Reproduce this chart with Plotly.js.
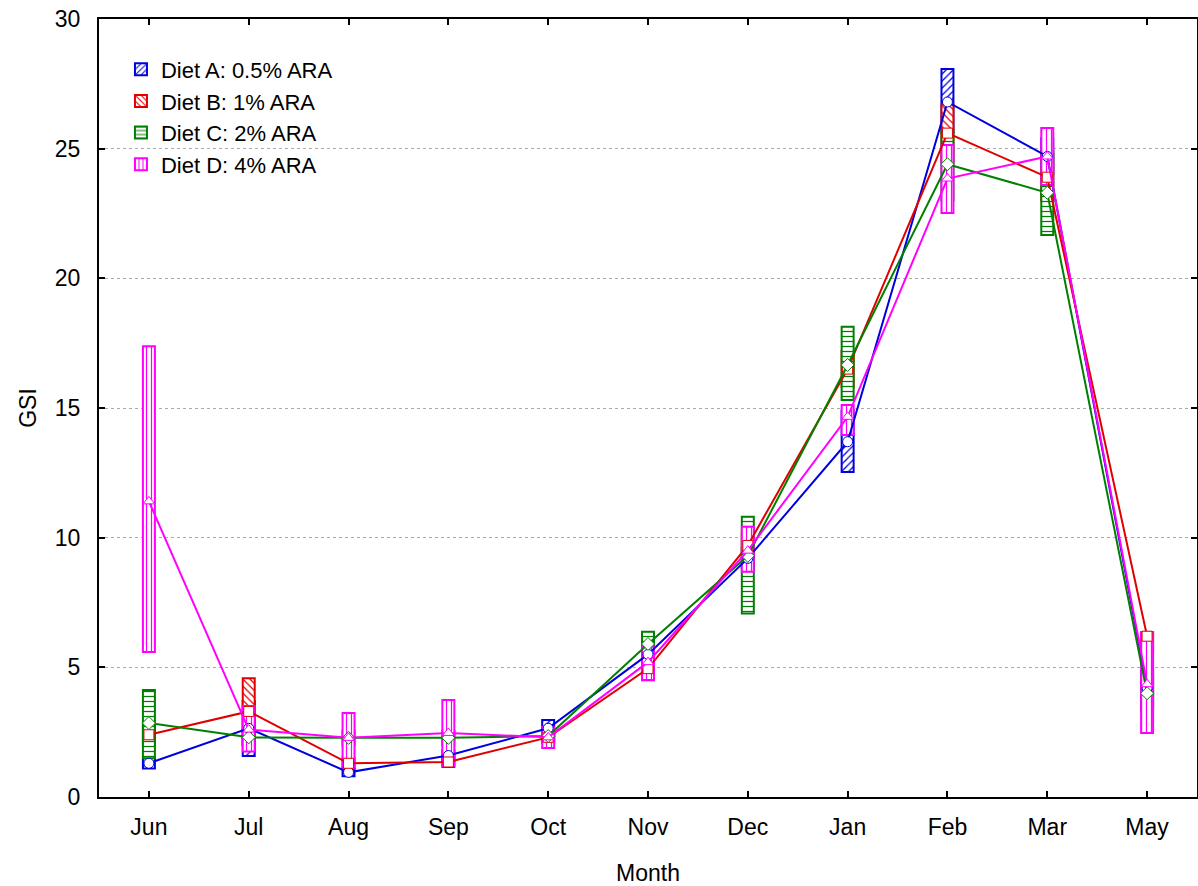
<!DOCTYPE html>
<html>
<head>
<meta charset="utf-8">
<script src="https://cdn.plot.ly/plotly-3.0.1.min.js"></script>
<style>html,body{margin:0;padding:0;background:#fff;}#chart{width:1198px;height:886px;}</style>
</head>
<body>
<div id="chart"></div>
<script>
const months = ["Jun","Jul","Aug","Sep","Oct","Nov","Dec","Jan","Feb","Mar","May"];
const seriesNames = ["Diet A: 0.5% ARA","Diet B: 1% ARA","Diet C: 2% ARA","Diet D: 4% ARA"];

// Means
const meanA = [1.3, 2.65, 0.95, 1.6, 2.65, 5.5, 9.2, 13.7, 26.8, 24.7, 4.2];
const meanB = [2.4, 3.3, 1.3, 1.35, 2.3, 4.95, 9.7, 16.5, 25.6, 23.9, 6.2];
const meanC = [2.85, 2.3, 2.28, 2.28, 2.35, 5.9, 9.3, 16.66, 24.4, 23.3, 4.0];
const meanD = [11.4, 2.6, 2.28, 2.47, 2.3, 5.2, 9.5, 14.66, 23.85, 24.7, 4.35];

// Box (mean +/- SE) lower and upper bounds
const lowA  = [1.1, 1.58, 0.8, 1.4, 2.35, 5.1, 8.8, 12.53, 25.6, 24.0, 3.5];
const highA = [1.5, 3.7, 1.1, 1.8, 2.97, 5.9, 9.6, 14.9, 28.07, 25.4, 4.9];
const lowB  = [2.0, 2.0, 1.1, 1.16, 2.1, 4.5, 9.2, 15.8, 24.5, 23.0, 5.6];
const highB = [2.8, 4.58, 1.5, 1.55, 2.5, 5.4, 10.2, 17.2, 26.7, 24.8, 6.35];
const lowC  = [1.49, 2.0, 2.0, 2.0, 2.1, 5.5, 7.08, 15.31, 23.0, 21.67, 3.3];
const highC = [4.13, 2.6, 2.55, 2.55, 2.6, 6.37, 10.81, 18.13, 25.72, 24.9, 4.7];
const lowD  = [5.59, 1.75, 1.12, 1.2, 1.89, 4.51, 8.69, 13.96, 22.52, 23.6, 2.47];
const highD = [17.38, 3.51, 3.24, 3.74, 2.7, 5.79, 10.42, 15.12, 25.14, 25.8, 6.36];

const colors = ["#0000dd", "#e00000", "#008000", "#ff00ff"];
const patterns = ["/", "\\", "-", "|"];
const symbols = ["circle", "square", "diamond", "triangle-up"];
const means = [meanA, meanB, meanC, meanD];
const lows = [lowA, lowB, lowC, lowD];
const highs = [highA, highB, highC, highD];

const traces = [];
for (let i = 0; i < 4; i++) {
  traces.push({
    type: "bar",
    x: months,
    y: highs[i].map((h, k) => h - lows[i][k]),
    base: lows[i],
    width: 0.12,
    name: seriesNames[i],
    legendgroup: "g" + i,
    marker: {
      color: "#ffffff",
      line: {color: colors[i], width: 2},
      pattern: {shape: patterns[i], fgcolor: colors[i], bgcolor: "#ffffff", size: 5, solidity: 0.25}
    },
    hoverinfo: "skip"
  });
}
for (let i = 0; i < 4; i++) {
  traces.push({
    type: "scatter",
    mode: "lines+markers",
    x: months,
    y: means[i],
    name: seriesNames[i],
    legendgroup: "g" + i,
    showlegend: false,
    line: {color: colors[i], width: 2},
    marker: {symbol: symbols[i], size: 10, color: "#ffffff", line: {color: colors[i], width: 1}}
  });
}

const fontFam = "Liberation Sans, Arial, sans-serif";
const layout = {
  width: 1198, height: 886,
  margin: {l: 99, r: 1, t: 19, b: 89},
  paper_bgcolor: "#ffffff", plot_bgcolor: "#ffffff",
  barmode: "overlay",
  font: {family: fontFam, size: 23, color: "#000"},
  showlegend: true,
  legend: {x: 0.02, y: 0.962, xanchor: "left", yanchor: "top", bgcolor: "rgba(0,0,0,0)",
           font: {size: 22, family: fontFam}, tracegroupgap: 0, itemwidth: 30},
  xaxis: {
    type: "category", categoryorder: "array", categoryarray: months,
    range: [-0.5, 10.5],
    showline: true, linecolor: "#000", linewidth: 2, mirror: "ticks",
    ticks: "inside", ticklen: 6, tickwidth: 2, tickcolor: "#000",
    showgrid: false, zeroline: false,
    ticklabelstandoff: 8,
    tickfont: {size: 23, family: fontFam},
    title: {text: "Month", font: {size: 23, family: fontFam}, standoff: 27}
  },
  yaxis: {
    range: [0, 30], dtick: 5, tick0: 0,
    showline: true, linecolor: "#000", linewidth: 2, mirror: "ticks",
    ticks: "inside", ticklen: 6, tickwidth: 2, tickcolor: "#000",
    showgrid: true, gridcolor: "#aaaaaa", griddash: "dot", gridwidth: 1,
    zeroline: false,
    ticklabelstandoff: 12,
    tickfont: {size: 23, family: fontFam},
    title: {text: "GSI", font: {size: 23, family: fontFam}, standoff: 12}
  }
};

Plotly.newPlot("chart", traces, layout, {displayModeBar: false, staticPlot: true});
</script>
</body>
</html>
